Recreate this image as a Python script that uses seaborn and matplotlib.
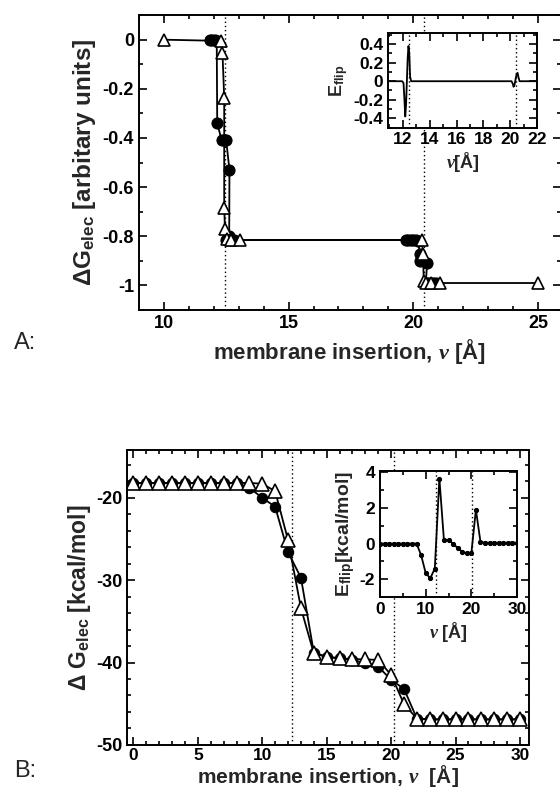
import matplotlib
matplotlib.use("Agg")
import matplotlib.pyplot as plt
import seaborn as sns
import numpy as np
from matplotlib.ticker import MultipleLocator, FixedLocator, FixedFormatter

sns.set_theme(style="ticks")
plt.rcParams['font.family'] = ['Liberation Sans', 'DejaVu Sans']
plt.rcParams['font.weight'] = 'bold'
plt.rcParams['axes.unicode_minus'] = False
plt.rcParams['mathtext.fontset'] = 'custom'
plt.rcParams['mathtext.rm'] = 'Liberation Sans:bold'
plt.rcParams['mathtext.it'] = 'Liberation Serif:italic'
plt.rcParams['mathtext.bf'] = 'Liberation Sans:bold'

# ---------------- Panel A data ----------------
a_circ_x = [11.85, 11.95, 12.05, 12.12, 12.14, 12.32, 12.42, 12.5, 12.63, 12.62, 12.5, 12.6, 12.7, 12.8,
            19.7, 19.8, 19.9, 20.0, 20.1, 20.2, 20.25, 20.27, 20.55, 20.5, 20.6, 20.7, 20.8, 20.9]
a_circ_y = [0, 0, 0, -0.005, -0.34, -0.41, -0.41, -0.41, -0.53, -0.80, -0.815, -0.815, -0.815, -0.815,
            -0.815, -0.815, -0.815, -0.815, -0.815, -0.82, -0.87, -0.90, -0.91, -0.99, -0.99, -0.99, -0.99, -0.99]
a_tri_x = [10, 12.3, 12.35, 12.42, 12.42, 12.45, 12.55, 12.7, 13.05, 20.35, 20.38, 20.42, 20.5, 20.7, 21.07, 25]
a_tri_y = [0, -0.005, -0.053, -0.237, -0.683, -0.77, -0.81, -0.815, -0.815, -0.815, -0.87, -0.98, -0.99, -0.99, -0.99, -0.99]
a_vlines = [12.47, 20.44]

# inset A (E_flip)
ia_x = [11.0, 11.95, 12.05, 12.12, 12.18, 12.24, 12.3, 12.36, 12.42, 12.48, 12.54, 12.62,
        20.1, 20.2, 20.25, 20.32, 20.4, 20.48, 20.55, 20.62, 20.7, 22.0]
ia_y = [0, 0, -0.02, -0.2, -0.38, -0.25, 0.0, 0.25, 0.38, 0.3, 0.05, 0,
        0, -0.03, -0.06, -0.04, 0.02, 0.08, 0.09, 0.04, 0, 0]

# ---------------- Panel B data ----------------
b_x = list(range(0, 31))
b_tri = [-18.2] * 10 + [-18.3, -19.2, -25.15, -33.4, -38.9, -39.3, -39.5, -39.6, -39.6, -39.7,
                        -41.5, -45.05, -46.8] + [-46.9] * 8
b_circ = [-18.2] * 9 + [-18.8, -20.0, -21.1, -26.6, -29.7, -38.8, -39.3, -39.5, -39.7, -40.1, -40.5,
                        -42.1, -43.2, -46.8] + [-46.9] * 8
b_vlines = [12.3, 20.2]

ib_y = [0] * 9 + [-0.65, -1.65, -1.95, -1.4, 3.65, 0.2, 0.2, 0.0, -0.25, -0.45, -0.55, -0.55,
                  1.9, 0.1] + [0.05] * 8

fig = plt.figure(figsize=(5.6, 7.95), dpi=100)

def style(ax, ls=13):
    for s in ax.spines.values():
        s.set_linewidth(1.4)
        s.set_color('black')
        s.set_visible(True)
    ax.tick_params(which='both', direction='in', top=True, right=True, colors='black',
                   labelsize=ls, width=1.2)
    ax.tick_params(which='major', length=6)
    ax.tick_params(which='minor', length=3)
    ax.set_facecolor('white')
    for t in ax.get_xticklabels() + ax.get_yticklabels():
        t.set_fontweight('bold')

lkw = dict(color='black', linewidth=1.3, estimator=None, sort=False, legend=False)

# ---------- Panel A ----------
axA = fig.add_axes([0.248, 0.610, 0.753, 0.371])
for v in a_vlines:
    axA.axvline(v, color='black', linestyle=(0, (1, 2)), linewidth=1.0, zorder=1)
sns.lineplot(x=a_circ_x, y=a_circ_y, ax=axA, marker='o', markersize=8, markerfacecolor='black',
             markeredgecolor='black', **lkw)
sns.lineplot(x=a_tri_x, y=a_tri_y, ax=axA, marker='^', markersize=9, markerfacecolor='white',
             markeredgecolor='black', markeredgewidth=1.2, **lkw)
axA.set_xlim(9, 25.9)
axA.set_ylim(-1.1, 0.1)
axA.xaxis.set_major_locator(FixedLocator([10, 15, 20, 25]))
axA.xaxis.set_minor_locator(MultipleLocator(1))
axA.yaxis.set_major_locator(FixedLocator([0, -0.2, -0.4, -0.6, -0.8, -1]))
axA.yaxis.set_major_formatter(FixedFormatter(['0', '-0.2', '-0.4', '-0.6', '-0.8', '-1']))
axA.yaxis.set_minor_locator(MultipleLocator(0.1))
axA.set_xlabel(r"membrane insertion, $\nu$ [Å]", fontsize=16, fontweight='bold', labelpad=4)
axA.set_ylabel(r"ΔG$_{\mathregular{elec}}$ [arbitary units]", fontsize=17.5, fontweight='bold', labelpad=3)
style(axA)

# inset A
iA = fig.add_axes([0.693, 0.8395, 0.266, 0.119])
for v in a_vlines:
    iA.axvline(v, color='black', linestyle=(0, (1, 2)), linewidth=1.0)
sns.lineplot(x=ia_x, y=ia_y, ax=iA, **lkw)
iA.set_xlim(10.9, 22)
iA.set_ylim(-0.5, 0.52)
iA.xaxis.set_major_locator(FixedLocator([12, 14, 16, 18, 20, 22]))
iA.xaxis.set_minor_locator(MultipleLocator(1))
iA.yaxis.set_major_locator(FixedLocator([0.4, 0.2, 0, -0.2, -0.4]))
iA.yaxis.set_major_formatter(FixedFormatter(['0.4', '0.2', '0', '-0.2', '-0.4']))
iA.yaxis.set_minor_locator(MultipleLocator(0.1))
iA.set_xlabel(r"$\nu$[Å]", fontsize=13, fontweight='bold', labelpad=2)
iA.set_ylabel(r"E$_{\mathregular{flip}}$", fontsize=13, fontweight='bold', labelpad=2)
style(iA, ls=12.5)

# ---------- Panel B ----------
axB = fig.add_axes([0.2268, 0.063, 0.7178, 0.371])
for v in b_vlines:
    axB.axvline(v, color='black', linestyle=(0, (1, 2)), linewidth=1.0, zorder=1)
sns.lineplot(x=b_x, y=b_circ, ax=axB, marker='o', markersize=7.5, markerfacecolor='black',
             markeredgecolor='black', **lkw)
sns.lineplot(x=b_x, y=b_tri, ax=axB, marker='^', markersize=9.5, markerfacecolor='white',
             markeredgecolor='black', markeredgewidth=1.2, **lkw)
axB.set_xlim(-0.5, 30.7)
axB.set_ylim(-50, -14.2)
axB.xaxis.set_major_locator(FixedLocator([0, 5, 10, 15, 20, 25, 30]))
axB.xaxis.set_minor_locator(MultipleLocator(1))
axB.yaxis.set_major_locator(FixedLocator([-20, -30, -40, -50]))
axB.yaxis.set_minor_locator(MultipleLocator(2))
axB.set_xlabel(r"membrane insertion, $\nu$  [Å]", fontsize=15, fontweight='bold', labelpad=0)
axB.set_ylabel(r"Δ G$_{\mathregular{elec}}$ [kcal/mol]", fontsize=16.5, fontweight='bold', labelpad=2)
style(axB)
axB.tick_params(axis='x', which='major', labelsize=12.5, pad=2.5)

# inset B
iB = fig.add_axes([0.6786, 0.249, 0.2446, 0.1585])
for v in b_vlines:
    iB.axvline(v, color='black', linestyle=(0, (1, 2)), linewidth=1.0)
sns.lineplot(x=b_x, y=ib_y, ax=iB, marker='o', markersize=3, markerfacecolor='black',
             markeredgecolor='black', **lkw)
iB.set_xlim(0, 30)
iB.set_ylim(-3, 4.07)
iB.xaxis.set_major_locator(FixedLocator([0, 10, 20, 30]))
iB.xaxis.set_minor_locator(MultipleLocator(5))
iB.yaxis.set_major_locator(FixedLocator([-2, 0, 2, 4]))
iB.yaxis.set_minor_locator(MultipleLocator(1))
iB.set_xlabel(r"$\nu$ [Å]", fontsize=13, fontweight='bold', labelpad=2)
iB.set_ylabel(r"E$_{\mathregular{flip}}$[kcal/mol]", fontsize=14, fontweight='bold', labelpad=2)
style(iB, ls=12.5)

fig.text(14 / 560, 1 - 343 / 795, "A:", fontsize=17, fontweight='normal', va='center', ha='left')
fig.text(14 / 560, 1 - 771 / 795, "B:", fontsize=17, fontweight='normal', va='center', ha='left')

fig.savefig("out.png", dpi=100, facecolor='white')
